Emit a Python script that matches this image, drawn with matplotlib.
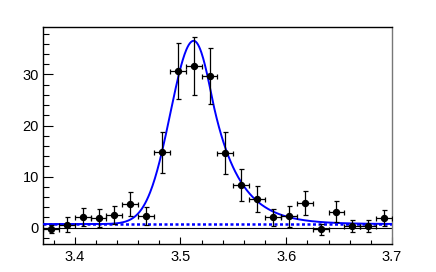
import numpy as np
import matplotlib
matplotlib.use("Agg")
import matplotlib.pyplot as plt
from matplotlib.ticker import MultipleLocator

# data points (bin centres, counts, errors)
x_centres = [3.3775, 3.3925, 3.4075, 3.4225, 3.4375, 3.4525, 3.4675, 3.4825,
             3.4975, 3.5125, 3.5275, 3.5425, 3.5575, 3.5725, 3.5875, 3.6025,
             3.6175, 3.6325, 3.6475, 3.6625, 3.6775, 3.6925]
y_counts = [-0.25, 0.6, 2.1, 1.9, 2.5, 4.7, 2.3, 14.8,
            30.7, 31.6, 29.7, 14.7, 8.35, 5.6, 2.0, 2.2,
            4.85, -0.35, 3.15, 0.3, 0.3, 1.95]
y_errors = [0.8, 1.4, 1.8, 1.7, 1.7, 2.35, 1.7, 4.0,
            5.5, 5.7, 5.5, 4.1, 3.2, 2.5, 1.7, 2.0,
            2.35, 1.0, 2.1, 1.15, 1.1, 1.6]
x_halfwidth = 0.0075

# fit result: gaussian core, exponential tail on the high side, flat background
BKG = 0.7
AMP = 35.9
MEAN = 3.5125
SIGMA_L = 0.022
SIGMA_R = 0.020
TAIL_START = 0.016


def fit_model(x):
    d = x - MEAN
    core_l = np.exp(-0.5 * (d / SIGMA_L) ** 2)
    core_r = np.exp(-0.5 * (d / SIGMA_R) ** 2)
    lam = SIGMA_R ** 2 / TAIL_START
    tail = np.exp(-0.5 * (TAIL_START / SIGMA_R) ** 2) * np.exp(-(d - TAIL_START) / lam)
    shape = np.where(d < 0, core_l, np.where(d < TAIL_START, core_r, tail))
    return BKG + AMP * shape


plt.rcParams['font.family'] = ['Liberation Sans', 'DejaVu Sans']

fig = plt.figure(figsize=(4.36, 2.72), dpi=100)
ax = fig.add_axes([0.0986, 0.103, 0.8004, 0.7977])

xlo, xhi = 3.37, 3.7
ax.axhline(0, color='black', lw=0.8, zorder=1)

# background (dotted) and total fit
xx = np.linspace(xlo, xhi, 600)
ax.plot(xx, np.full_like(xx, BKG), color='#0000ff', lw=1.8, ls=(0, (1.2, 1.0)), zorder=2)
ax.plot(xx, fit_model(xx), color='#0000ff', lw=1.4, zorder=3)

ax.errorbar(x_centres, y_counts, yerr=y_errors, xerr=x_halfwidth, fmt='o',
            color='black', ms=4.3, elinewidth=0.9, capsize=1.8, capthick=0.9, zorder=4)

ax.set_xlim(xlo, xhi)
ax.set_ylim(-3.2, 39.3)

ax.xaxis.set_major_locator(MultipleLocator(0.1))
ax.xaxis.set_minor_locator(MultipleLocator(0.02))
ax.yaxis.set_major_locator(MultipleLocator(10))
ax.yaxis.set_minor_locator(MultipleLocator(2))

ax.tick_params(axis='both', which='both', direction='in', top=False, right=False,
               labelsize=10.5, width=0.8)
ax.tick_params(axis='y', which='major', length=7.5, pad=3)
ax.tick_params(axis='y', which='minor', length=4)
ax.tick_params(axis='x', which='major', length=4.8, pad=4)
ax.tick_params(axis='x', which='minor', length=2.6)

for s in ax.spines.values():
    s.set_linewidth(1.0)
ax.spines['right'].set_color('#777777')

fig.savefig('out.png', dpi=100)
